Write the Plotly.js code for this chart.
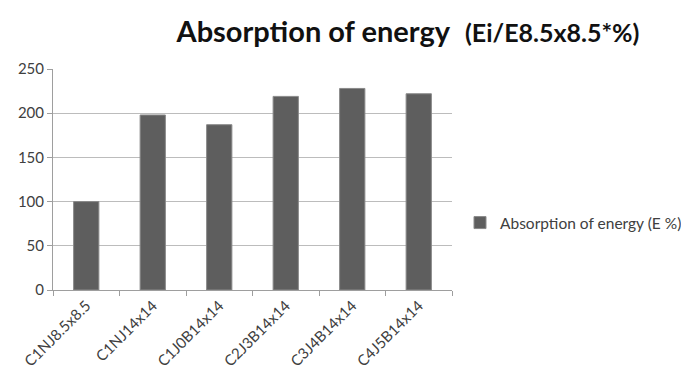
<!DOCTYPE html>
<html>
<head>
<meta charset="utf-8">
<script src="https://cdn.plot.ly/plotly-3.0.1.min.js"></script>
<style>
  html, body { margin: 0; padding: 0; background: #fff; }
  #chart { width: 681px; height: 379px; }
</style>
</head>
<body>
<div id="chart"></div>
<script>
// Specimen labels and their energy absorption relative to the 8.5x8.5 reference (%)
const specimens = ["C1NJ8.5x8.5", "C1NJ14x14", "C1J0B14x14", "C2J3B14x14", "C3J4B14x14", "C4J5B14x14"];
const absorption = [100, 198, 187, 219, 228, 222];
const seriesName = "Absorption of energy (E %)";
const yTicks = [0, 50, 100, 150, 200, 250];

const FONT = "Lato, 'Open Sans', 'Liberation Sans', sans-serif";

const trace = {
  type: "bar",
  x: specimens,
  y: absorption,
  name: seriesName,
  width: 0.38,
  marker: { color: "#5e5e5e", line: { color: "#8a8a8a", width: 1 } },
  showlegend: true,
  hoverinfo: "x+y"
};

const layout = {
  width: 681,
  height: 379,
  paper_bgcolor: "#ffffff",
  plot_bgcolor: "#ffffff",
  margin: { l: 53, r: 229, t: 69, b: 89 },
  font: { family: FONT, color: "#404040" },
  title: {
    text: "<b>Absorption of energy</b>&nbsp; <b><span style='font-size:25px'>(Ei/E8.5x8.5*%)</span></b>",
    font: { family: FONT, size: 29, color: "#111111" },
    x: 408 / 681, xanchor: "center", xref: "container",
    y: 1 - 32 / 379, yanchor: "middle", yref: "container"
  },
  xaxis: {
    type: "category",
    tickangle: -45,
    tickfont: { size: 15, color: "#404040" },
    showline: true, linecolor: "#9e9e9e", linewidth: 1,
    ticks: "outside", ticklen: 5, tickcolor: "#9e9e9e",
    tickson: "boundaries",
    showgrid: false,
    automargin: false
  },
  yaxis: {
    range: [0, 250],
    tickvals: yTicks,
    ticktext: yTicks.map(String),
    tickfont: { size: 15, color: "#404040" },
    showline: true, linecolor: "#9e9e9e", linewidth: 1,
    ticks: "outside", ticklen: 5, tickcolor: "#9e9e9e",
    showgrid: true, gridcolor: "#bcbcbc", gridwidth: 1,
    zeroline: false,
    automargin: false
  },
  legend: {
    xref: "container", yref: "container",
    x: 460 / 681, xanchor: "left",
    y: 1 - 223 / 379, yanchor: "middle",
    font: { size: 15.5, color: "#404040" },
    itemwidth: 30,
    bgcolor: "rgba(0,0,0,0)"
  },
  bargap: 0.62
};

Plotly.newPlot("chart", [trace], layout, { displayModeBar: false, staticPlot: true });
</script>
</body>
</html>
